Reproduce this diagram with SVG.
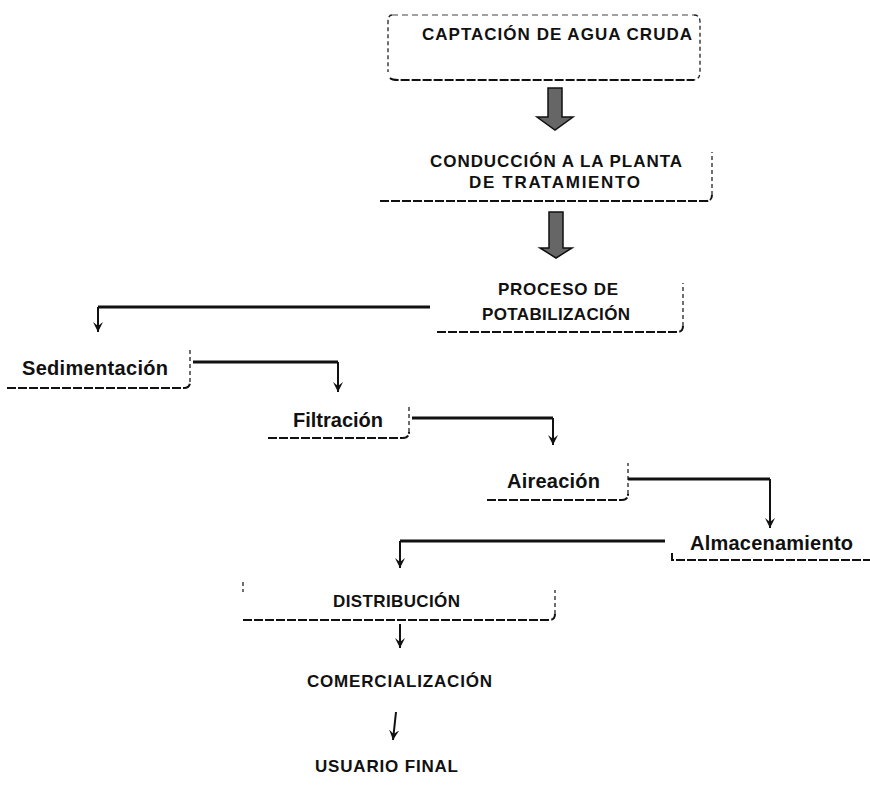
<svg xmlns="http://www.w3.org/2000/svg" width="870" height="786" viewBox="0 0 870 786">
<defs>
<style>
.t{font-family:"Liberation Sans",Arial,sans-serif;font-weight:bold;fill:#111;}
.cap{font-size:17px;}
.low{font-size:20px;}
.edge{fill:none;stroke:#111;stroke-width:2;stroke-dasharray:9 2;}
.side{fill:none;stroke:#222;stroke-width:1.3;stroke-dasharray:4 3;}
.top{fill:none;stroke:#444;stroke-width:1.2;stroke-dasharray:6 4;}
.conn{fill:none;stroke:#111;stroke-width:3;}
.stem{fill:none;stroke:#111;stroke-width:2;}
.block{fill:#666;stroke:#111;stroke-width:1.5;}
</style>
<marker id="ah" viewBox="0 0 10 10" refX="10" refY="5" markerWidth="10" markerHeight="10" markerUnits="userSpaceOnUse" orient="auto">
<path d="M0,0 L10,5 L0,10 L4,5 Z" fill="#111"/>
</marker>
</defs>

<g id="captacion">
<path class="top" d="M392,15 L694,15"/>
<path class="side" d="M392,15 Q388,15 388,22 L388,72"/>
<path class="side" d="M694,15 Q700,15 700,22 L700,72 Q700,79 694,80"/>
<path class="edge" d="M390,78 Q392,80 398,80 L694,80"/>
<text class="t cap" x="422" y="40" textLength="270" lengthAdjust="spacing">CAPTACIÓN DE AGUA CRUDA</text>
</g>

<g id="conduccion">
<path class="edge" d="M380,201 L706,201 Q712,201 712,195"/>
<path class="side" d="M712,195 L712,152"/>
<text class="t cap" x="430" y="167" textLength="252" lengthAdjust="spacing">CONDUCCIÓN A LA PLANTA</text>
<text class="t cap" x="469" y="188" textLength="171" lengthAdjust="spacing">DE TRATAMIENTO</text>
</g>

<g id="proceso">
<path class="edge" d="M437,332 L677,332 Q683,332 683,326"/>
<path class="side" d="M683,326 L683,283"/>
<text class="t cap" x="498" y="295" textLength="120" lengthAdjust="spacing">PROCESO DE</text>
<text class="t cap" x="482" y="320" textLength="148" lengthAdjust="spacing">POTABILIZACIÓN</text>
</g>

<g id="sedimentacion">
<path class="edge" d="M7,388 L184,388 Q190,388 190,382"/>
<path class="side" d="M190,382 L190,350"/>
<text class="t low" x="22" y="375" textLength="146" lengthAdjust="spacing">Sedimentación</text>
</g>

<g id="filtracion">
<path class="edge" d="M268,438 L403,438 Q409,438 409,432"/>
<path class="side" d="M409,432 L409,407"/>
<text class="t low" x="293" y="427" textLength="90" lengthAdjust="spacing">Filtración</text>
</g>

<g id="aireacion">
<path class="edge" d="M487,500 L622,500 Q628,500 628,494"/>
<path class="side" d="M628,494 L628,463"/>
<text class="t low" x="507" y="488" textLength="93" lengthAdjust="spacing">Aireación</text>
</g>

<g id="almacenamiento">
<path class="edge" d="M672,553 L672,560 L870,560"/>
<text class="t low" x="690" y="550" textLength="163" lengthAdjust="spacing">Almacenamiento</text>
</g>

<g id="distribucion">
<path class="edge" d="M243,620 L549,620 Q555,620 555,614"/>
<path class="side" d="M555,614 L555,590"/>
<path class="side" d="M243,582 L243,592"/>
<text class="t cap" x="333" y="607" textLength="127" lengthAdjust="spacing">DISTRIBUCIÓN</text>
</g>

<g id="comercializacion">
<text class="t cap" x="307" y="687" textLength="185" lengthAdjust="spacing">COMERCIALIZACIÓN</text>
</g>

<g id="usuario">
<text class="t cap" x="315" y="772" textLength="143" lengthAdjust="spacing">USUARIO FINAL</text>
</g>

<g id="connectors">
<path class="block" d="M548,88 L562,88 L562,117 L573,117 L555,130 L537,117 L548,117 Z"/>
<path class="block" d="M549,212 L563,212 L563,248 L572,248 L556,258 L540,248 L549,248 Z"/>
<path class="conn" d="M430,307 L98,307"/>
<path class="stem" d="M98,307 L98,332" marker-end="url(#ah)"/>
<path class="conn" d="M193,362 L338,362"/>
<path class="stem" d="M338,362 L338,392" marker-end="url(#ah)"/>
<path class="conn" d="M412,418 L553,418"/>
<path class="stem" d="M553,418 L553,445" marker-end="url(#ah)"/>
<path class="conn" d="M628,479 L770,479"/>
<path class="stem" d="M770,479 L770,528" marker-end="url(#ah)"/>
<path class="conn" d="M665,541 L400,541"/>
<path class="stem" d="M400,541 L400,568" marker-end="url(#ah)"/>
<path class="stem" d="M400,624 L400,648" marker-end="url(#ah)"/>
<path class="stem" d="M396,712 L393,740" marker-end="url(#ah)"/>
</g>
</svg>
